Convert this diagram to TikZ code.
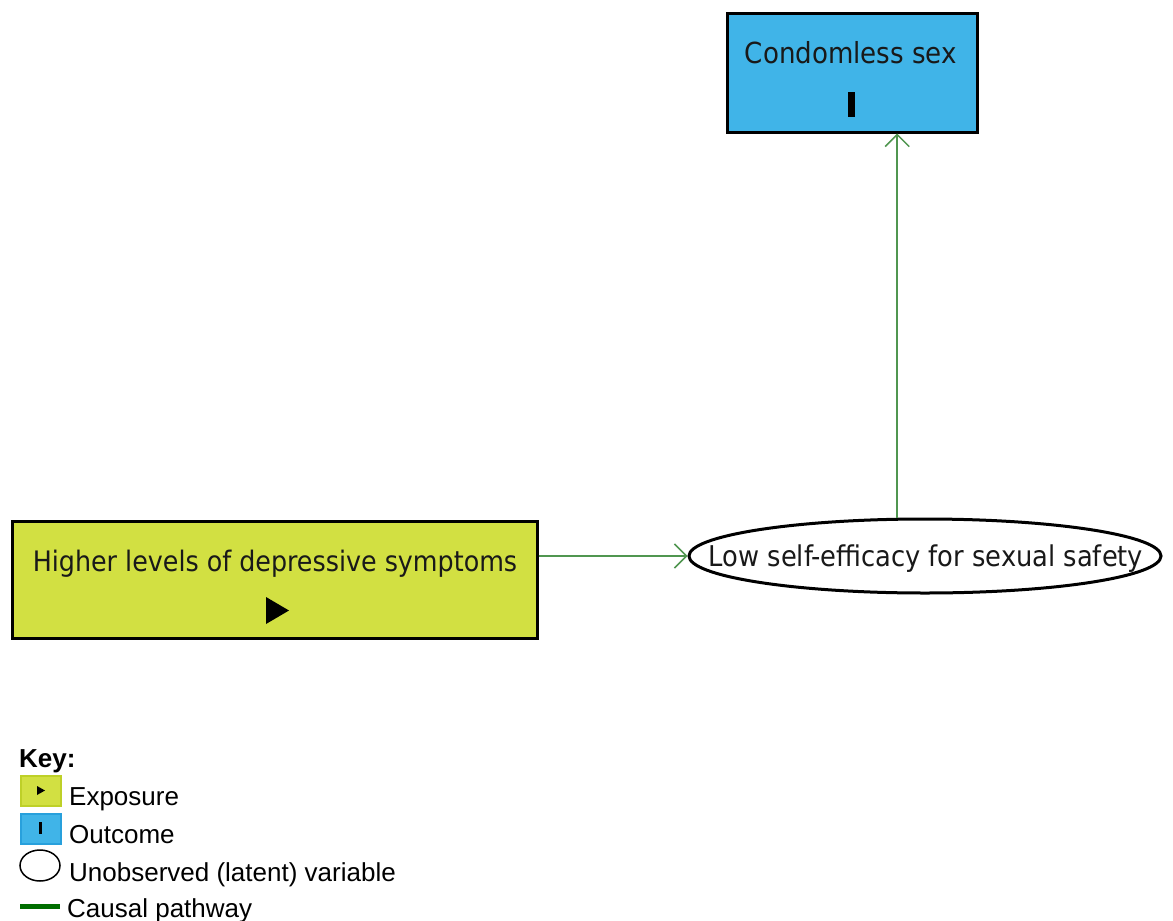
\documentclass[tikz,border=0pt]{standalone}
\usepackage{fontspec}
\setmainfont{Liberation Sans}
\newfontfamily\diagfont{DejaVu Sans Condensed}
\usetikzlibrary{arrows.meta,shapes.geometric,calc}
\definecolor{outblue}{RGB}{64,180,232}
\definecolor{outbord}{RGB}{40,160,220}
\definecolor{expgreen}{RGB}{210,224,66}
\definecolor{expbord}{RGB}{190,208,40}
\definecolor{arrowgreen}{RGB}{80,150,80}
\definecolor{keygreen}{RGB}{0,110,0}
\begin{document}
\begin{tikzpicture}[x=1pt,y=-1pt,
  box/.style={draw=black, line width=3pt, inner sep=0pt},
  lbl/.style={font=\diagfont\fontsize{29}{34}\selectfont, text=black!90, inner sep=0pt, anchor=base},
  causal/.style={draw=arrowgreen, line width=1.5pt, -{Straight Barb[length=12pt,width=24pt,line width=1.5pt]}},
  keytxt/.style={font=\fontsize{26}{30}\selectfont, anchor=base west, inner sep=0pt},
  keybox/.style={minimum width=40pt, minimum height=30pt, inner sep=0pt, line width=2pt}]
\useasboundingbox (0,0) rectangle (1173,921);
% outcome
\node[box, fill=outblue, minimum width=250pt, minimum height=119pt] (out) at (852,72.5) {};
\node[lbl] (outlbl) at (851,63) {Condomless sex};
\node[fill=black, inner sep=0pt, minimum width=7pt, minimum height=25pt] (outsym) at (851.5,104.5) {};
% exposure
\node[box, fill=expgreen, minimum width=525pt, minimum height=117pt] (exp) at (274.5,579.5) {};
\node[lbl, font=\diagfont\fontsize{28.2}{34}\selectfont] (explbl) at (275,571) {Higher levels of depressive symptoms};
\fill[black] (266,597) -- (266,624) -- (289,610.5) -- cycle;
% latent
\node[ellipse, draw=black, line width=3pt, fill=white, minimum width=472pt, minimum height=74pt, inner sep=0pt] (lat) at (925,556) {};
\node[lbl, font=\diagfont\fontsize{28.6}{34}\selectfont] (latlbl) at (926,566) {Low self-efficacy for sexual safety};
% arrows
\draw[causal] (exp.east |- lat.west) -- (lat.west);
\draw[causal] (lat.126) -- (lat.126 |- out.south);
% key
\node[font=\bfseries\fontsize{26}{30}\selectfont, anchor=base west, inner sep=0pt] (key) at (19,767) {Key:};
\node[keybox, draw=expbord, fill=expgreen] (kexp) at (40.5,790.5) {};
\fill[black] (37,786) -- (37,795) -- (45,790.5) -- cycle;
\node[keytxt] (kexpt) at (69,805) {Exposure};
\node[keybox, draw=outbord, fill=outblue] (kout) at (40.5,828.5) {};
\fill[black] (39,822) rectangle (42,834);
\node[keytxt] (koutt) at (69,843) {Outcome};
\node[ellipse, draw=black, line width=1.5pt, minimum width=40pt, minimum height=31pt, inner sep=0pt] (klat) at (40,865.5) {};
\node[keytxt] (klatt) at (69,881) {Unobserved (latent) variable};
\draw[keygreen, line width=5pt] (20,906) -- (60,906);
\node[keytxt] (kcau) at (67,917) {Causal pathway};
\end{tikzpicture}
\end{document}
